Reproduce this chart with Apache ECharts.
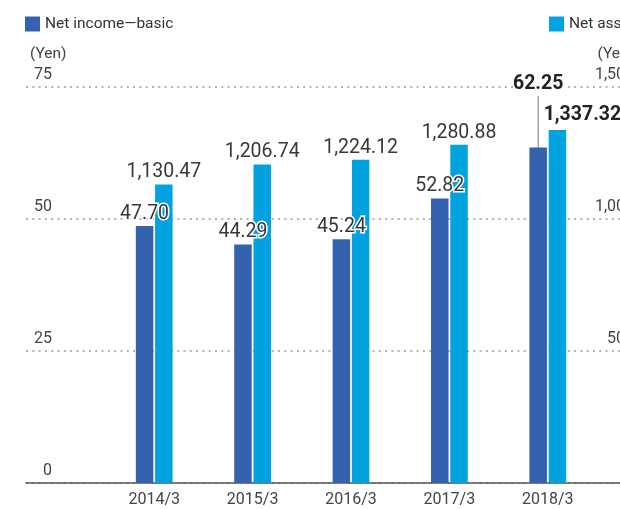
<!DOCTYPE html>
<html>
<head>
    <meta charset="utf-8">
    <title>Net income / Net assets per share</title>
    <script type="text/javascript" src="https://cdn.jsdelivr.net/npm/echarts@6/dist/echarts.min.js"></script>
    <style type="text/css">
        html, body { margin: 0; padding: 0; background: #fff; }
        #main { width: 620px; height: 509px; }
    </style>
</head>
<body>
    <div id="main"></div>
    <script type="text/javascript">
        // data
        var categories = ['2014/3', '2015/3', '2016/3', '2017/3', '2018/3'];
        var netIncome = [47.70, 44.29, 45.24, 52.82, 62.25];
        var netAssets = [1130.47, 1206.74, 1224.12, 1280.88, 1337.32];
        var leftTicks = { min: 0, max: 75, interval: 25 };
        var rightTicks = { min: 0, max: 1500, interval: 500 };
        var seriesNames = ['Net income\u2014basic', 'Net assets per share'];

        var FONT = "Roboto, 'Liberation Sans', sans-serif";
        var DARK = '#3462ae';
        var LIGHT = '#00a3e0';

        function fmtAssets(v) {
            return v.toLocaleString('en-US', { minimumFractionDigits: 2, maximumFractionDigits: 2 });
        }

        var last = categories.length - 1;

        var incomeData = netIncome.map(function (v, i) {
            if (i !== last) return v;
            return {
                value: v,
                label: { fontWeight: 'bold', color: '#222' },
                labelLine: { show: true, lineStyle: { color: '#777', width: 1 } }
            };
        });
        var assetsData = netAssets.map(function (v, i) {
            if (i !== last) return v;
            return {
                value: v,
                label: { fontWeight: 'bold', color: '#222', offset: [25, -3] }
            };
        });

        var valueLabel = {
            show: true,
            position: 'top',
            distance: 2,
            fontFamily: FONT,
            fontSize: 19.5,
            color: '#383838',
            textBorderColor: '#fff',
            textBorderWidth: 3
        };

        var chart = echarts.init(document.getElementById('main'), null, { renderer: 'canvas' });

        var option = {
            animation: false,
            textStyle: { fontFamily: FONT },
            legend: [
                {
                    data: [seriesNames[0]], left: 25, top: 16, padding: 0,
                    icon: 'rect', itemWidth: 15, itemHeight: 15,
                    textStyle: { fontFamily: FONT, fontSize: 15.5, color: '#333' }
                },
                {
                    data: [seriesNames[1]], left: 549, top: 16, padding: 0,
                    icon: 'rect', itemWidth: 15, itemHeight: 15,
                    textStyle: { fontFamily: FONT, fontSize: 15.5, color: '#333' }
                }
            ],
            grid: [
                // full width grid: gridlines, axis labels, base line
                { left: 26, right: 0, top: 87, bottom: 26, outerBoundsMode: 'none' },
                // bar grid
                { left: 105, right: 23, top: 87, bottom: 26, outerBoundsMode: 'none' }
            ],
            xAxis: [
                {
                    gridIndex: 0, type: 'category', data: [''],
                    axisLine: { show: true, lineStyle: { color: '#555', width: 1.5 } },
                    axisTick: { show: false }, axisLabel: { show: false }, splitLine: { show: false }
                },
                {
                    gridIndex: 1, type: 'category', data: categories,
                    axisLine: { show: false }, axisTick: { show: false },
                    axisLabel: { fontFamily: FONT, fontSize: 16, color: '#444', margin: 9 }
                }
            ],
            yAxis: [
                {
                    gridIndex: 0, type: 'value', position: 'left',
                    min: leftTicks.min, max: leftTicks.max, interval: leftTicks.interval,
                    name: '(Yen)', nameLocation: 'end', nameGap: 33,
                    nameTextStyle: { fontFamily: FONT, fontSize: 15.5, color: '#444', align: 'left', verticalAlign: 'middle', padding: [0, 0, 0, 4] },
                    axisLine: { show: false }, axisTick: { show: false },
                    axisLabel: {
                        inside: true, margin: 26, align: 'right', verticalAlign: 'bottom',
                        padding: [0, 0, 4, 0], fontFamily: FONT, fontSize: 16, color: '#444'
                    },
                    splitLine: { show: true, lineStyle: { color: '#9a9a9a', width: 1.5, type: [2, 4.3] } }
                },
                {
                    gridIndex: 0, type: 'value', position: 'right', offset: 14,
                    min: rightTicks.min, max: rightTicks.max, interval: rightTicks.interval,
                    name: '(Yen)', nameLocation: 'end', nameGap: 33,
                    nameTextStyle: { fontFamily: FONT, fontSize: 15.5, color: '#444', align: 'right', verticalAlign: 'middle' },
                    axisLine: { show: false }, axisTick: { show: false },
                    axisLabel: {
                        margin: 0, align: 'right', verticalAlign: 'bottom',
                        padding: [0, 0, 4, 0], fontFamily: FONT, fontSize: 16, color: '#444',
                        formatter: function (v) { return v.toLocaleString('en-US'); }
                    },
                    splitLine: { show: false }
                },
                {
                    // scale used by the income bars in the original artwork
                    gridIndex: 1, type: 'value', min: 0, max: 73.5, show: false, splitLine: { show: false }
                },
                {
                    gridIndex: 1, type: 'value', min: rightTicks.min, max: rightTicks.max, show: false, splitLine: { show: false }
                }
            ],
            series: [
                {
                    name: seriesNames[0], type: 'bar',
                    xAxisIndex: 1, yAxisIndex: 2,
                    barWidth: 17.5, barGap: '10%',
                    itemStyle: { color: DARK },
                    label: Object.assign({}, valueLabel, {
                        formatter: function (p) { return p.value.toFixed(2); }
                    }),
                    labelLayout: function (p) {
                        return p.dataIndex === last ? { dy: -51 } : {};
                    },
                    data: incomeData
                },
                {
                    name: seriesNames[1], type: 'bar',
                    xAxisIndex: 1, yAxisIndex: 3,
                    barWidth: 17.5, barGap: '10%',
                    itemStyle: { color: LIGHT },
                    label: Object.assign({}, valueLabel, {
                        formatter: function (p) { return fmtAssets(p.value); }
                    }),
                    data: assetsData
                }
            ]
        };

        chart.setOption(option);
    </script>
</body>
</html>
